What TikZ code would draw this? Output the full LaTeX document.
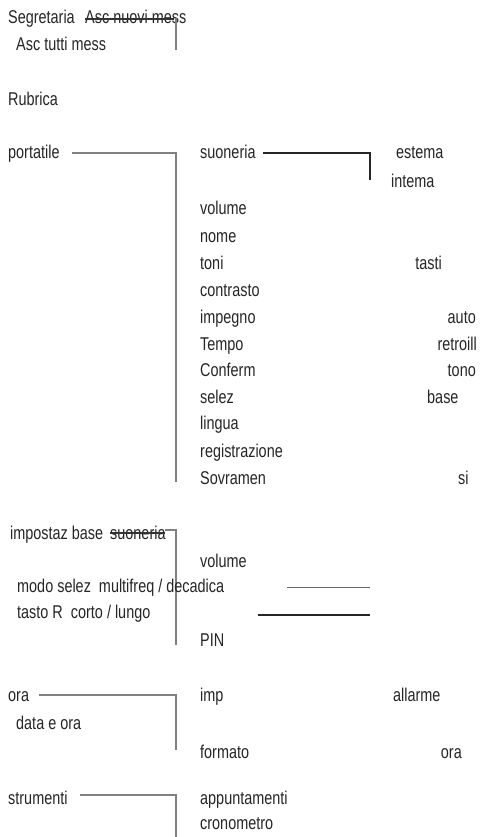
\documentclass[tikz,border=0pt]{standalone}
\usepackage{fontspec}
\setmainfont{Liberation Sans}[FakeStretch=0.78]
\begin{document}
\begin{tikzpicture}[x=1pt,y=-1pt,
  lbl/.style={inner sep=0pt, anchor=base west, font=\fontsize{18.5}{22}\selectfont, text=black!85},
  rlbl/.style={lbl, anchor=base east},
  gline/.style={draw=black!50, line width=1.4pt},
  kline/.style={draw=black!85, line width=2pt},
  tline/.style={draw=black!60, line width=1pt},
  strike/.style={draw=black!80, line width=1.2pt}]
\useasboundingbox[fill=white] (0,0) rectangle (479,837);
% top block
\node[lbl] (seg) at (8,24) {Segretaria};
\node[lbl] (ascnuovi) at (85,24) {Asc nuovi mess};
\node[lbl] (asctutti) at (16,51) {Asc tutti mess};
\node[lbl] (rubrica) at (8,106) {Rubrica};
\coordinate (sA) at (85,19);
\coordinate (sB) at (174,19);
\draw[strike] (sA) -- (sB);
\coordinate (sV1) at (176,18);
\coordinate (sV2) at (176,50);
\draw[gline] (sV1) -- (sV2);
% portatile block
\node[lbl] (portatile) at (8,159) {portatile};
\node[lbl] (suoneria) at (200,159) {suoneria};
\node[lbl] (estema) at (396,159) {estema};
\node[lbl] (interna) at (391,187) {intema};
\node[lbl] (volume) at (200,214) {volume};
\node[lbl] (nome) at (200,242) {nome};
\node[lbl] (toni) at (200,269) {toni};
\node[rlbl] (tasti) at (442,269) {tasti};
\node[lbl] (contrasto) at (200,296) {contrasto};
\node[lbl] (impegno) at (200,323) {impegno};
\node[rlbl] (auto) at (476,323) {auto};
\node[lbl] (tempo) at (200,350) {Tempo};
\node[rlbl] (retroill) at (477,350) {retroill};
\node[lbl] (conferm) at (200,376) {Conferm};
\node[rlbl] (tono) at (476,376) {tono};
\node[lbl] (selez) at (200,403) {selez};
\node[lbl] (base) at (427,403) {base};
\node[lbl] (lingua) at (200,429) {lingua};
\node[lbl] (registrazione) at (200,457) {registrazione};
\node[lbl] (sovramen) at (200,484) {Sovramen};
\node[lbl] (si) at (458,484) {si};
\coordinate (pA) at (72,153);
\coordinate (pB) at (176,153);
\coordinate (pC) at (176,482);
\draw[gline] (pA) -- (pB) -- (pC);
\coordinate (qA) at (263,153);
\coordinate (qB) at (370,153);
\coordinate (qC) at (370,180);
\draw[kline] (qA) -- (qB) -- (qC);
% impostaz base block
\node[lbl] (impostaz) at (10,539) {impostaz base};
\node[lbl] (suoneria2) at (110,539) {suoneria};
\coordinate (iS1) at (110,533);
\coordinate (iS2) at (165,533);
\draw[strike] (iS1) -- (iS2);
\coordinate (iA) at (165,530);
\coordinate (iB) at (176,530);
\coordinate (iC) at (176,645);
\draw[gline] (iA) -- (iB) -- (iC);
\node[lbl] (volume2) at (200,567) {volume};
\node[lbl] (modo) at (17,592) {modo selez\ \ multifreq / decadica};
\node[lbl] (tasto) at (17,618) {tasto R\ \ corto / lungo};
\node[lbl] (pin) at (200,646) {PIN};
\coordinate (mA) at (287,587);
\coordinate (mB) at (370,587);
\draw[tline] (mA) -- (mB);
\coordinate (tA) at (258,615);
\coordinate (tB) at (370,615);
\draw[kline] (tA) -- (tB);
% ora block
\node[lbl] (ora) at (8,701) {ora};
\node[lbl] (dataora) at (16,729) {data e ora};
\node[lbl] (imp) at (200,701) {imp};
\node[lbl] (allarme) at (393,701) {allarme};
\node[lbl] (formato) at (200,758) {formato};
\node[rlbl] (ora2) at (462,758) {ora};
\coordinate (oA) at (39,695);
\coordinate (oB) at (176,695);
\coordinate (oC) at (176,750);
\draw[gline] (oA) -- (oB) -- (oC);
% strumenti block
\node[lbl] (strumenti) at (8,804) {strumenti};
\node[lbl] (appuntamenti) at (200,804) {appuntamenti};
\node[lbl] (cronometro) at (200,829) {cronometro};
\coordinate (uA) at (80,795);
\coordinate (uB) at (176,795);
\coordinate (uC) at (176,837);
\draw[gline] (uA) -- (uB) -- (uC);
\end{tikzpicture}
\end{document}
